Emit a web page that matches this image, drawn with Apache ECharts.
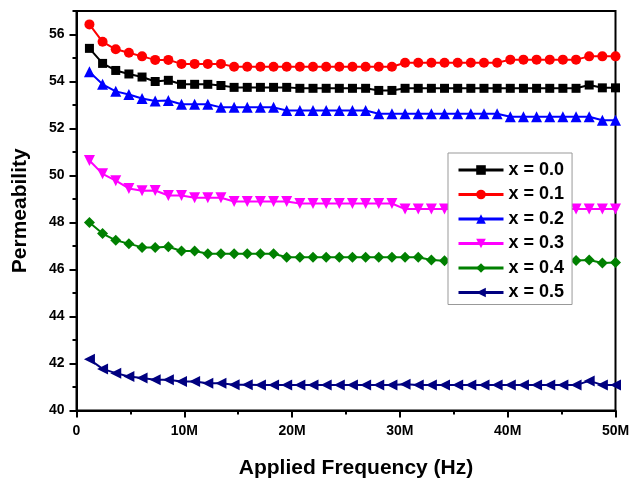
<!DOCTYPE html>
<html>
<head>
<meta charset="utf-8">
<script src="https://cdn.jsdelivr.net/npm/echarts@6/dist/echarts.min.js"></script>
<style>
  html, body { margin: 0; padding: 0; background: #fff; }
  #chart { width: 630px; height: 478px; }
</style>
</head>
<body>
<div id="chart"></div>
<script>
// Applied frequency of each measurement, in MHz
const freqMHz = [1.2, 2.42, 3.64, 4.86, 6.08, 7.3, 8.52, 9.74, 10.96, 12.18,
  13.4, 14.62, 15.84, 17.06, 18.28, 19.5, 20.72, 21.94, 23.16, 24.38,
  25.6, 26.82, 28.04, 29.26, 30.48, 31.7, 32.92, 34.14, 35.36, 36.58,
  37.8, 39.02, 40.24, 41.46, 42.68, 43.9, 45.12, 46.34, 47.56, 48.78, 50.0];

const seriesNames = ['x = 0.0', 'x = 0.1', 'x = 0.2', 'x = 0.3', 'x = 0.4', 'x = 0.5'];

const permX00 = [55.41, 54.77, 54.47, 54.32, 54.19, 54.00, 54.05, 53.88, 53.88, 53.88,
  53.83, 53.75, 53.75, 53.75, 53.75, 53.75, 53.71, 53.71, 53.71, 53.71,
  53.71, 53.71, 53.62, 53.62, 53.71, 53.71, 53.71, 53.71, 53.71, 53.71,
  53.71, 53.71, 53.71, 53.71, 53.71, 53.71, 53.71, 53.71, 53.85, 53.73, 53.73];

const permX01 = [56.43, 55.69, 55.37, 55.22, 55.07, 54.92, 54.92, 54.75, 54.75, 54.75,
  54.75, 54.63, 54.63, 54.63, 54.63, 54.63, 54.63, 54.63, 54.63, 54.63,
  54.63, 54.63, 54.63, 54.63, 54.80, 54.80, 54.80, 54.80, 54.80, 54.80,
  54.80, 54.80, 54.93, 54.93, 54.93, 54.93, 54.93, 54.93, 55.07, 55.07, 55.07];

const permX02 = [54.41, 53.88, 53.58, 53.45, 53.28, 53.17, 53.19, 53.03, 53.03, 53.03,
  52.90, 52.90, 52.90, 52.90, 52.90, 52.77, 52.77, 52.77, 52.77, 52.77,
  52.77, 52.77, 52.63, 52.63, 52.63, 52.63, 52.63, 52.63, 52.63, 52.63,
  52.63, 52.63, 52.50, 52.50, 52.50, 52.50, 52.50, 52.50, 52.50, 52.35, 52.35];

const permX03 = [50.64, 50.07, 49.78, 49.45, 49.35, 49.36, 49.15, 49.15, 49.05, 49.05,
  49.05, 48.89, 48.89, 48.89, 48.89, 48.89, 48.81, 48.81, 48.81, 48.81,
  48.81, 48.81, 48.81, 48.81, 48.57, 48.57, 48.57, 48.57, 48.57, 48.57,
  48.57, 48.57, 48.57, 48.57, 48.57, 48.57, 48.57, 48.57, 48.57, 48.57, 48.57];

const permX04 = [48.00, 47.53, 47.24, 47.10, 46.94, 46.94, 46.97, 46.79, 46.79, 46.67,
  46.67, 46.67, 46.67, 46.67, 46.67, 46.52, 46.52, 46.52, 46.52, 46.52,
  46.52, 46.52, 46.52, 46.52, 46.52, 46.52, 46.40, 46.37, 46.38, 46.38,
  46.38, 46.38, 46.38, 46.38, 46.38, 46.38, 46.38, 46.38, 46.40, 46.28, 46.30];

const permX05 = [42.18, 41.77, 41.59, 41.45, 41.38, 41.31, 41.31, 41.23, 41.23, 41.16,
  41.16, 41.10, 41.10, 41.09, 41.09, 41.09, 41.09, 41.09, 41.09, 41.09,
  41.09, 41.09, 41.09, 41.09, 41.12, 41.08, 41.08, 41.08, 41.08, 41.08,
  41.08, 41.08, 41.08, 41.08, 41.08, 41.08, 41.08, 41.08, 41.26, 41.09, 41.09];

// Axis tick values
const yMajorTicks = [40, 42, 44, 46, 48, 50, 52, 54, 56];
const yMinorTicks = [41, 43, 45, 47, 49, 51, 53, 55, 57];
const xTickLabels = ['0', '10M', '20M', '30M', '40M', '50M'];

const seriesValues = [permX00, permX01, permX02, permX03, permX04, permX05];
const seriesColors = ['#000000', '#ff0000', '#0000ff', '#ff00ff', '#008000', '#000080'];
const seriesSymbols = ['rect', 'circle', 'triangle', 'triangle', 'diamond', 'triangle'];
const seriesSymbolRotate = [0, 0, 0, 180, 0, 90];
const seriesSymbolSize = [9, 10, 11, 11, 11, 11];

const FONT = '"Liberation Sans", Arial, sans-serif';

const chart = echarts.init(document.getElementById('chart'), null, { renderer: 'canvas' });

const series = seriesNames.map((name, k) => ({
  name: name,
  type: 'line',
  xAxisIndex: 0,
  yAxisIndex: 0,
  data: freqMHz.map((f, i) => [f, seriesValues[k][i]]),
  symbol: seriesSymbols[k],
  symbolRotate: seriesSymbolRotate[k],
  symbolSize: seriesSymbolSize[k],
  showAllSymbol: true,
  color: seriesColors[k],
  lineStyle: { color: seriesColors[k], width: 2 },
  itemStyle: { color: seriesColors[k], borderWidth: 0 },
  animation: false,
  z: 2
}));

const yCommon = {
  type: 'value',
  min: 40,
  max: 57,
  position: 'left',
  splitLine: { show: false },
  axisLine: { show: true, onZero: false, lineStyle: { color: '#000', width: 2 } }
};

chart.setOption({
  animation: false,
  backgroundColor: '#ffffff',
  grid: {
    left: 76.5, right: 14.5, top: 11, bottom: 67.5,
    outerBoundsMode: 'none',
    containLabel: false,
    show: true, borderColor: '#000', borderWidth: 2, backgroundColor: 'transparent'
  },
  xAxis: {
    type: 'value',
    min: 0,
    max: 50,
    interval: 10,
    axisLine: { show: true, onZero: false, lineStyle: { color: '#000', width: 2 } },
    axisTick: { show: true, length: 7, lineStyle: { color: '#000', width: 2 } },
    minorTick: { show: true, splitNumber: 2, length: 4, lineStyle: { color: '#000', width: 2 } },
    splitLine: { show: false },
    axisLabel: {
      color: '#000', fontFamily: FONT, fontWeight: 'bold', fontSize: 14, margin: 14,
      formatter: v => xTickLabels[Math.round(v / 10)]
    },
    name: 'Applied Frequency (Hz)',
    nameLocation: 'middle',
    nameGap: 47,
    nameTextStyle: {
      color: '#000', fontFamily: FONT, fontWeight: 'bold', fontSize: 21,
      padding: [0, 0, 0, 20]
    }
  },
  yAxis: [
    Object.assign({}, yCommon, {
      axisTick: { show: true, length: 7, customValues: yMajorTicks, lineStyle: { color: '#000', width: 2 } },
      axisLabel: {
        color: '#000', fontFamily: FONT, fontWeight: 'bold', fontSize: 14, margin: 12,
        customValues: yMajorTicks
      },
      name: 'Permeability',
      nameLocation: 'middle',
      nameGap: 46,
      nameRotate: 90,
      nameTextStyle: { color: '#000', fontFamily: FONT, fontWeight: 'bold', fontSize: 21 }
    }),
    Object.assign({}, yCommon, {
      axisTick: { show: true, length: 4, customValues: yMinorTicks, lineStyle: { color: '#000', width: 2 } },
      axisLabel: { show: false }
    })
  ],
  legend: {
    data: seriesNames,
    orient: 'vertical',
    left: 448,
    top: 153,
    padding: [8, 8, 3, 9],
    itemWidth: 45,
    itemHeight: 12,
    itemGap: 6.5,
    backgroundColor: '#ffffff',
    borderColor: '#999999',
    borderWidth: 1,
    borderRadius: 0,
    lineStyle: { width: 3 },
    textStyle: { color: '#000', fontFamily: FONT, fontWeight: 'bold', fontSize: 18, lineHeight: 18 },
    z: 10
  },
  series: series
});
</script>
</body>
</html>
